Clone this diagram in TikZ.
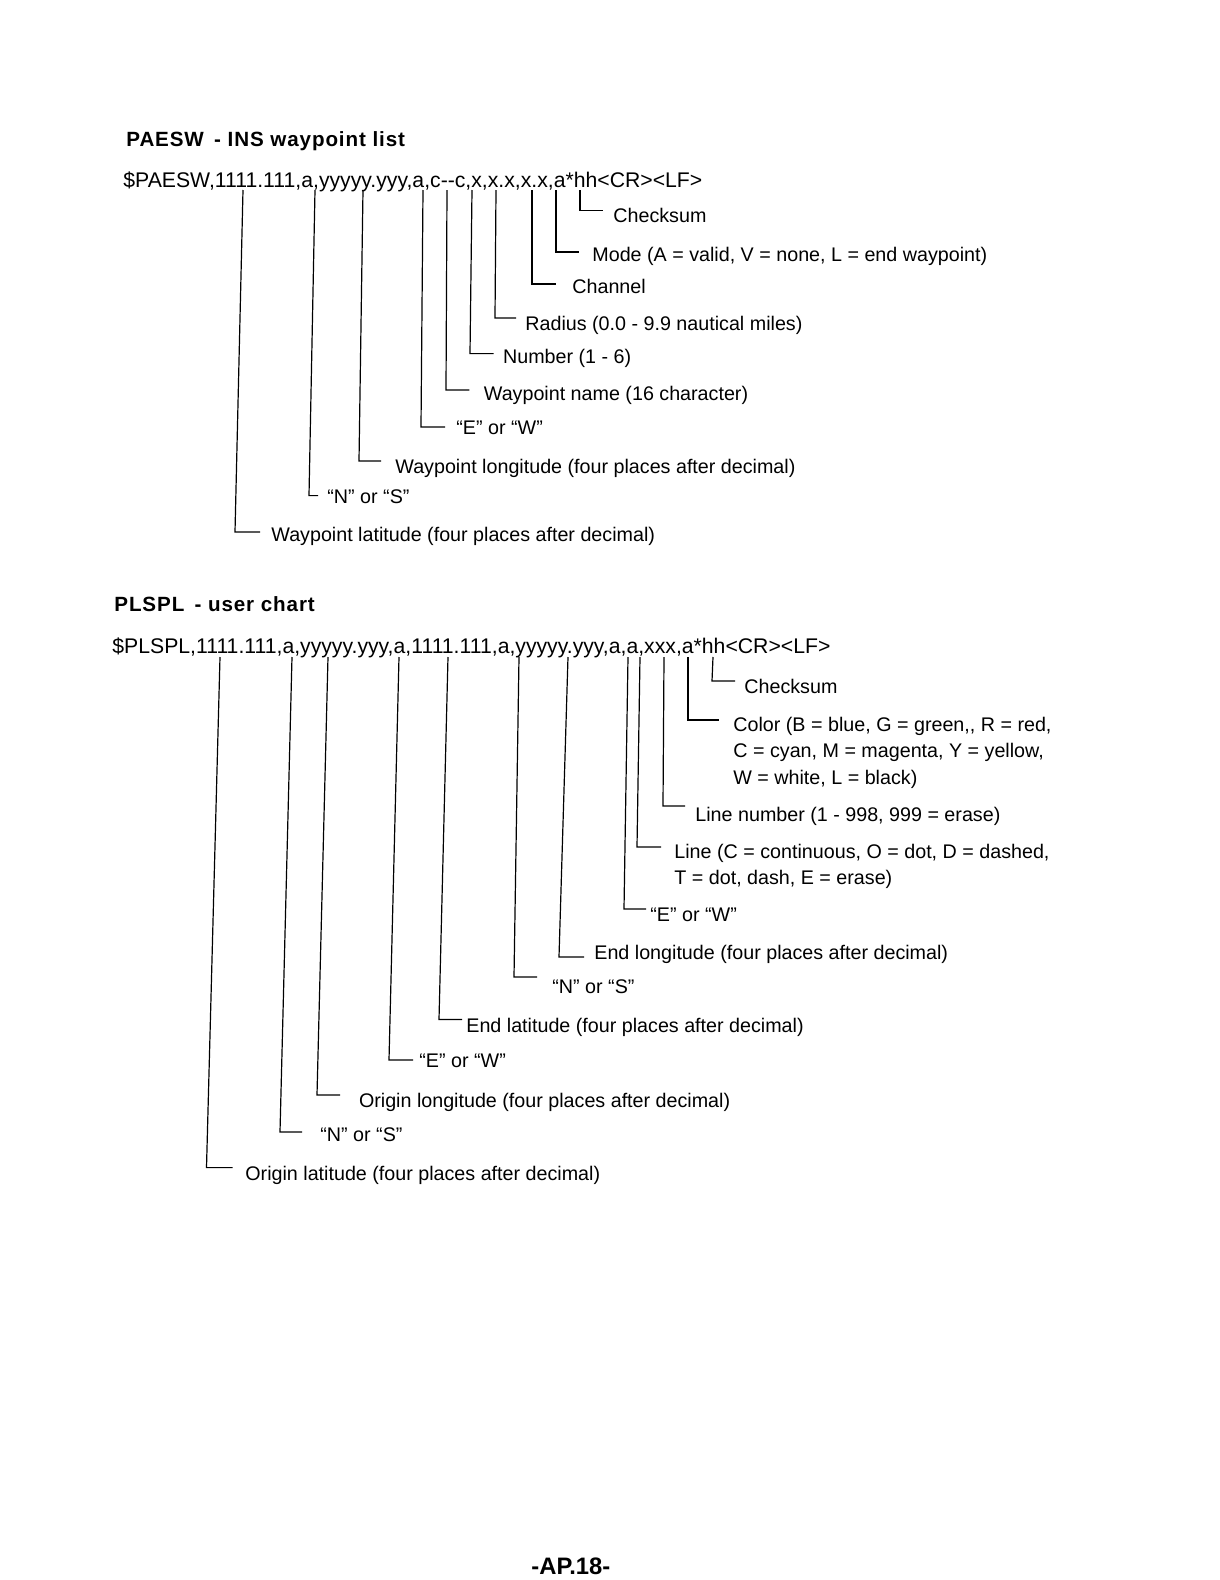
\documentclass[tikz,border=0pt]{standalone}
\usepackage{fontspec}
\setmainfont{Liberation Sans}
\newcommand\hk[9]{%
  \coordinate (#1t) at (#2,#3);
  \coordinate (#1c) at (#4,#5);
  \coordinate (#1e) at (#6,#5);
  \node[lbl] (#1) at (#7,#8) {#9};
  \draw[ln] (#1t) -- (#1c) -- (#1e);}
\begin{document}
\begin{tikzpicture}[x=0.5pt,y=-0.5pt,
  lbl/.style={anchor=base west,inner sep=0pt,font=\fontsize{9.85}{13.1}\selectfont},
  mlbl/.style={anchor=north west,inner sep=0pt,align=left,font=\fontsize{9.85}{13.1}\selectfont},
  hdr/.style={anchor=base west,inner sep=0pt,font=\fontsize{10.6}{12}\selectfont},
  ttl/.style={anchor=base west,inner sep=0pt,font=\fontsize{10.3}{12}\selectfont\bfseries\addfontfeature{LetterSpace=4.3}},
  ln/.style={line width=0.6pt}]
\useasboundingbox[fill=white] (0,0) rectangle (1220,1580);

% ---------- PAESW ----------
\node[ttl] (t1) at (126,146) {PAESW\hspace{0.5em}- INS waypoint list};
\node[hdr] (h1) at (123,187) {\$PAESW,1111.111,a,yyyyy.yyy,a,c-{}-c,x,x.x,x.x,a*hh<CR><LF>};

\hk{a1}{580}{190}{580}{210.5}{603}{613}{222.6}{Checksum}
\hk{a2}{556}{190}{556}{252}{579}{592}{261}{Mode (A = valid, V = none, L = end waypoint)}
\hk{a3}{532}{190}{532}{284}{556}{572}{293}{Channel}
\hk{a4}{496}{190}{495}{318}{516}{525}{330}{Radius (0.0 - 9.9 nautical miles)}
\hk{a5}{472}{190}{470}{353.6}{493.6}{502.7}{363.6}{Number (1 - 6)}
\hk{a6}{447}{190}{446}{390}{469.4}{483.5}{400}{Waypoint name (16 character)}
\hk{a7}{423}{190}{421}{427}{445}{456}{434}{“E” or “W”}
\hk{a8}{363}{190}{359}{461}{381}{395}{473}{Waypoint longitude (four places after decimal)}
\hk{a9}{315}{190}{309}{495.6}{318}{327}{503.6}{“N” or “S”}
\hk{a10}{243}{190}{235}{532}{260}{271}{541}{Waypoint latitude (four places after decimal)}

% ---------- PLSPL ----------
\node[ttl] (t2) at (114,611) {PLSPL\hspace{0.5em}- user chart};
\node[hdr] (h2) at (112,653) {\$PLSPL,1111.111,a,yyyyy.yyy,a,1111.111,a,yyyyy.yyy,a,a,xxx,a*hh<CR><LF>};

\hk{b1}{713}{657}{712}{681}{735}{744}{693}{Checksum}

\coordinate (b2t) at (688,657);
\coordinate (b2c) at (688,720);
\coordinate (b2e) at (719,720);
\node[mlbl] (b2) at (733,717) {Color (B = blue, G = green,{}, R = red,\\C = cyan, M = magenta, Y = yellow,\\W = white, L = black)};
\draw[ln] (b2t) -- (b2c) -- (b2e);

\hk{b3}{664}{657}{663}{806}{685}{695}{821}{Line number (1 - 998, 999 = erase)}

\coordinate (b4t) at (640,657);
\coordinate (b4c) at (637,847);
\coordinate (b4e) at (661,847);
\node[mlbl] (b4) at (674,844) {Line (C = continuous, O = dot, D = dashed,\\T = dot, dash, E = erase)};
\draw[ln] (b4t) -- (b4c) -- (b4e);

\hk{b5}{628}{657}{624}{909}{646}{650}{921.7}{“E” or “W”}
\hk{b6}{568}{657}{559}{957}{584}{594}{959}{End longitude (four places after decimal)}
\hk{b7}{519}{657}{514}{977}{537}{552}{993}{“N” or “S”}
\hk{b8}{448}{657}{439}{1019.5}{462}{466}{1032.5}{End latitude (four places after decimal)}
\hk{b9}{399}{657}{389}{1060}{413}{419}{1067}{“E” or “W”}
\hk{b10}{328}{657}{317}{1095}{340}{358.6}{1107}{Origin longitude (four places after decimal)}
\hk{b11}{292}{657}{280}{1132}{302}{320}{1141}{“N” or “S”}
\hk{b12}{220}{657}{206.5}{1167.6}{232.7}{245}{1180.6}{Origin latitude (four places after decimal)}

% ---------- footer ----------
\node[anchor=base west,inner sep=0pt,font=\fontsize{11.9}{13}\selectfont\bfseries] (ft) at (531,1574) {-AP.18-};
\end{tikzpicture}
\end{document}
